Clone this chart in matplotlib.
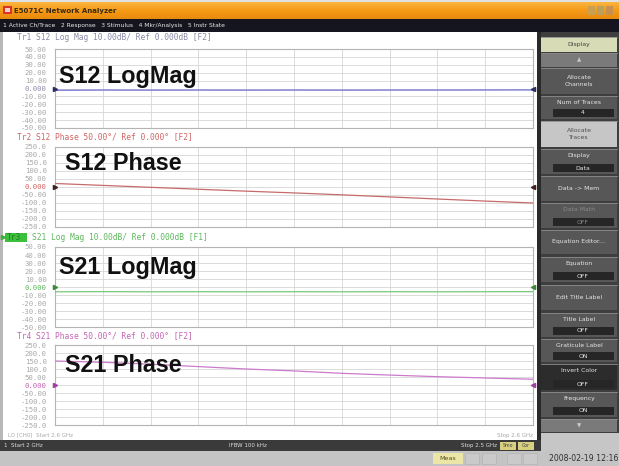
import matplotlib
matplotlib.use("Agg")
import matplotlib.pyplot as plt
from matplotlib.patches import Rectangle
import numpy as np

W, H = 619, 466

# ---------------- data ----------------
freq_ghz = [2.00, 2.05, 2.10, 2.15, 2.20, 2.25, 2.30, 2.35, 2.40, 2.45, 2.50]
s12_logmag = [-2.2, -2.0, -2.1, -2.0, -2.1, -2.0, -2.1, -2.0, -2.0, -1.9, -1.8]
s12_phase = [22, 10, -2, -14, -26, -37, -49, -62, -75, -88, -100]
s21_logmag = [-6.0, -5.8, -6.0, -5.9, -6.0, -5.9, -6.0, -5.9, -6.0, -5.9, -5.8]
s21_phase = [150, 142, 130, 115, 100, 88, 73, 62, 52, 44, 36]

logmag_ticks = [50, 40, 30, 20, 10, 0, -10, -20, -30, -40, -50]
logmag_labels = ["50.00", "40.00", "30.00", "20.00", "10.00", "0.000",
                 "-10.00", "-20.00", "-30.00", "-40.00", "-50.00"]
phase_ticks = [250, 200, 150, 100, 50, 0, -50, -100, -150, -200, -250]
phase_labels = ["250.0", "200.0", "150.0", "100.0", "50.00", "0.000",
                "-50.00", "-100.0", "-150.0", "-200.0", "-250.0"]

headers = ["Tr1 S12 Log Mag 10.00dB/ Ref 0.000dB [F2]",
           "Tr2 S12 Phase 50.00\u00b0/ Ref 0.000\u00b0 [F2]",
           "S21 Log Mag 10.00dB/ Ref 0.000dB [F1]",
           "Tr4 S21 Phase 50.00\u00b0/ Ref 0.000\u00b0 [F2]"]
big_labels = ["S12 LogMag", "S12 Phase", "S21 LogMag", "S21 Phase"]

title_text = "E5071C Network Analyzer"
menu_text = "1 Active Ch/Trace   2 Response   3 Stimulus   4 Mkr/Analysis   5 Instr State"
softkey_labels = ["Display", "\u25b2", "Allocate\nChannels", "Num of Traces", "Allocate\nTraces",
                  "Display", "Data -> Mem", "Data Math", "Equation Editor...", "Equation",
                  "Edit Title Label", "Title Label", "Graticule Label", "Invert Color",
                  "Frequency", "\u25bc"]
softkey_values = [None, None, None, "4", None, "Data", None, "OFF", None, "OFF",
                  None, "OFF", "ON", "OFF", "ON", None]
status_left = "1  Start 2 GHz"
status_mid = "IFBW 100 kHz"
status_right = "Stop 2.5 GHz"
sub_left = "LO [CH0]  Start 2.6 GHz"
sub_right = "Stop 2.6 GHz"
date_text = "2008-02-19 12:16"

# ---------------- layout / style ----------------
MONO = "DejaVu Sans Mono"
SANS = "DejaVu Sans"

def fig_rect(x0, y0, x1, y1):
    return [x0 / W, 1 - y1 / H, (x1 - x0) / W, (y1 - y0) / H]

fig = plt.figure(figsize=(W / 100, H / 100), dpi=100, facecolor="white")

bg = fig.add_axes([0, 0, 1, 1], zorder=0)
bg.set_xlim(0, W)
bg.set_ylim(H, 0)
bg.axis("off")

def rect(x0, y0, x1, y1, color, ax=bg, **kw):
    ax.add_patch(Rectangle((x0, y0), x1 - x0, y1 - y0, facecolor=color,
                           edgecolor=kw.pop("ec", "none"), lw=kw.pop("lw", 0), **kw))

# title bar gradient
grad = np.linspace(0, 1, 32).reshape(-1, 1)
from matplotlib.colors import LinearSegmentedColormap
cmap = LinearSegmentedColormap.from_list("o", ["#fbb541", "#f59a16", "#e98a0c"])
bg.imshow(grad, extent=(0, W, 19, 2), cmap=cmap, aspect="auto", zorder=1)
rect(0, 0, W, 2, "#e0e0e0")
rect(3, 6, 12, 14, "#d8342c", zorder=2)
rect(5, 8, 10, 12, "#f4d0c0", zorder=2)
bg.text(14, 10.5, title_text, fontsize=5, fontweight="bold", color="#3a2a10",
        va="center", ha="left", family=SANS, zorder=3)
for i, c in enumerate(["#c8a050", "#b8a060", "#c89050"]):
    rect(588 + i * 9, 6, 595 + i * 9, 15, c, zorder=2)

# menu bar
rect(0, 19, W, 32, "#15151f")
bg.text(3, 25.5, menu_text, fontsize=4.3, color="#e8e8e8", va="center", ha="left", family=SANS)

# main white area and left border
rect(0, 32, 3, 440, "#b8b8b8")
rect(3, 32, 537, 440, "white")

# right soft-key panel
rect(537, 32, 541, 440, "#2a2a2a")
rect(541, 32, W, 440, "#3e3e3e")
key_spans = [(37, 52), (53, 67), (68, 94), (96, 119), (121, 147), (149, 174), (176, 201),
             (203, 228), (230, 254), (257, 282), (285, 310), (313, 337), (339, 362),
             (364, 390), (392, 417), (419, 432)]
for i, ((y0, y1), lab, val) in enumerate(zip(key_spans, softkey_labels, softkey_values)):
    face, tc = "#575757", "#e6e6e6"
    if i == 0:
        face, tc = "#d7dbb6", "#404040"
    elif i in (1, 15):
        face, tc = "#7a7a7a", "#c8c8c8"
    elif i == 4:
        face, tc = "#c6c6c6", "#505050"
    elif i == 13:
        face = "#2c2c2c"
    elif i == 7:
        tc = "#8a8a8a"
    rect(541, y0, 617, y1, face)
    bg.plot([541, 617], [y0, y0], color="#8c8c8c", lw=0.6)
    fs = 4.4 if i not in (1, 15) else 4
    if val is None:
        bg.text(579, (y0 + y1) / 2, lab, fontsize=fs, color=tc, ha="center", va="center",
                family=SANS, linespacing=1.3)
    else:
        bg.text(579, y0 + 6.5, lab, fontsize=fs, color=tc, ha="center", va="center", family=SANS)
        rect(553, y1 - 10, 614, y1 - 2, "#262626")
        bg.text(583, y1 - 6, val, fontsize=fs, color=tc, ha="center", va="center", family=SANS)
rect(541, 433, W, 451, "#c6c6c6")

# bottom dark bar
rect(0, 440, 541, 451, "#3a3a3a")
bg.text(4, 445.5, status_left, fontsize=4, color="#dddddd", va="center", ha="left", family=SANS)
bg.text(248, 445.5, status_mid, fontsize=4, color="#dddddd", va="center", ha="center", family=SANS)
bg.text(497, 445.5, status_right, fontsize=4, color="#dddddd", va="center", ha="right", family=SANS)
rect(500, 441.5, 516, 449.5, "#d8d080")
rect(518, 441.5, 534, 449.5, "#d8d080")
bg.text(508, 445.5, "Smo", fontsize=3.4, color="#404040", va="center", ha="center", family=SANS)
bg.text(526, 445.5, "Cor", fontsize=3.4, color="#404040", va="center", ha="center", family=SANS)

# status bar
rect(0, 451, W, 466, "#c4c4c4")
rect(433, 453, 463, 464, "#ece6a6")
bg.text(448, 458.5, "Meas", fontsize=4.6, color="#505020", va="center", ha="center", family=SANS)
for x0 in (465, 482, 507, 523):
    rect(x0, 453, x0 + 14, 464, "#cacaca", ec="#b4b4b4", lw=0.5)
bg.text(618, 458.5, date_text, fontsize=5.6, color="#303030", va="center", ha="right", family=SANS)

# text under last plot
bg.text(8, 435, sub_left, fontsize=4, color="#a8a8a8", va="center", ha="left", family=SANS)
bg.text(533, 435, sub_right, fontsize=4, color="#a8a8a8", va="center", ha="right", family=SANS)

# ---------------- the four traces ----------------
panels = [
    dict(y=(49, 128), hy=38, data=s12_logmag, ticks=logmag_ticks, labels=logmag_labels,
         line="#6f6fd2", txt="#8a8aa8", mark="#303060", big=(59, 83)),
    dict(y=(147, 227), hy=137, data=s12_phase, ticks=phase_ticks, labels=phase_labels,
         line="#c86a6a", txt="#d06464", mark="#402020", big=(65, 170)),
    dict(y=(247, 327), hy=237, data=s21_logmag, ticks=logmag_ticks, labels=logmag_labels,
         line="#78c878", txt="#5cb85c", mark="#3c8a3c", big=(59, 274)),
    dict(y=(345, 425), hy=336, data=s21_phase, ticks=phase_ticks, labels=phase_labels,
         line="#cc7acc", txt="#c464b4", mark="#a040a0", big=(65, 372)),
]

fg = fig.add_axes([0, 0, 1, 1], zorder=10)
fg.set_xlim(0, W)
fg.set_ylim(H, 0)
fg.axis("off")
fg.patch.set_alpha(0)

for i, p in enumerate(panels):
    y0, y1 = p["y"]
    ax = fig.add_axes(fig_rect(55, y0, 533, y1), zorder=5)
    ax.set_facecolor("white")
    ax.set_xlim(freq_ghz[0], freq_ghz[-1])
    ax.set_ylim(p["ticks"][-1], p["ticks"][0])
    ax.set_xticks(freq_ghz)
    ax.set_xticklabels([])
    ax.set_yticks(p["ticks"])
    ax.set_yticklabels(p["labels"], family=MONO, fontsize=5.2, color="#a8a8a8")
    ax.tick_params(length=0, pad=6)
    for lab in ax.get_yticklabels():
        if lab.get_text() == "0.000":
            lab.set_color(p["txt"])
    ax.grid(True, color="#d6d6d6", lw=0.6)
    for s in ax.spines.values():
        s.set_color("#b4b4b4")
        s.set_linewidth(0.8)
    ax.plot(freq_ghz, p["data"], color=p["line"], lw=0.9, zorder=3)
    ax.plot([freq_ghz[0]], [0], marker=">", ms=3, color=p["mark"], clip_on=False, zorder=4)
    ax.plot([freq_ghz[-1]], [0], marker="<", ms=3, color=p["mark"], clip_on=False, zorder=4)

    # header line
    if i == 2:
        fg.plot([2.5], [p["hy"]], marker=">", ms=3, color="#3cb03c")
        rect(5, p["hy"] - 4.5, 27, p["hy"] + 4.5, "#3cc03c", ax=fg)
        fg.text(7, p["hy"], "Tr3", family=MONO, fontsize=5.7, color="#1c801c", va="center")
        fg.text(32, p["hy"], p_hdr if False else headers[i], family=MONO, fontsize=5.7,
                color=p["txt"], va="center", ha="left")
    else:
        fg.text(17, p["hy"], headers[i], family=MONO, fontsize=5.7, color=p["txt"],
                va="center", ha="left")

    bx, by = p["big"]
    fg.text(bx, by, big_labels[i], family="Liberation Sans", fontweight="bold",
            fontsize=16.8, color="#111111", va="baseline", ha="left")

fig.savefig("out.png", dpi=100, facecolor="white")
